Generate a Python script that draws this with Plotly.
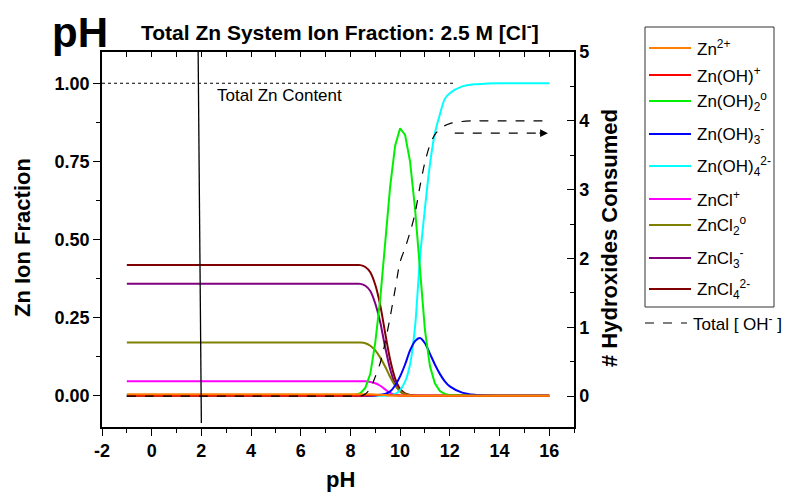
import plotly.graph_objects as go

# ---------------- data ----------------
ph = [-1, 0, 1, 2, 3, 4, 5, 6, 7, 7.5, 8, 8.2, 8.4, 8.6, 8.8, 9.0, 9.2, 9.4, 9.6, 9.8,
      10.0, 10.2, 10.4, 10.6, 10.8, 11.0, 11.2, 11.4, 11.6, 11.8, 12.0, 12.5, 13.0, 13.5, 14, 15, 16]

zn2 = [0.005, 0.005, 0.005, 0.005, 0.005, 0.005, 0.005, 0.005, 0.005, 0.005, 0.005, 0.005, 0.005,
       0.0048, 0.0045, 0.004, 0.003, 0.002, 0.001, 0.0004, 0.0001,
       0, 0, 0, 0, 0, 0, 0, 0, 0, 0, 0, 0, 0, 0, 0, 0]
znoh = [0, 0, 0, 0, 0, 0, 0, 0, 0, 0, 0, 0, 0,
        0.0005, 0.001, 0.0015, 0.002, 0.002, 0.0015, 0.001, 0.0005, 0.0002,
        0, 0, 0, 0, 0, 0, 0, 0, 0, 0, 0, 0, 0, 0, 0]
znoh2 = [0, 0, 0, 0, 0, 0, 0, 0, 0, 0, 0.001, 0.003, 0.008,
         0.025, 0.07, 0.17, 0.31, 0.49, 0.67, 0.80, 0.856, 0.835, 0.75, 0.60, 0.40,
         0.21, 0.095, 0.04, 0.015, 0.006, 0.002, 0.0005, 0, 0, 0, 0, 0]
znoh3 = [0, 0, 0, 0, 0, 0, 0, 0, 0, 0, 0, 0, 0, 0, 0,
         0.001, 0.003, 0.006, 0.014, 0.033, 0.062, 0.10, 0.145, 0.175, 0.185,
         0.168, 0.135, 0.10, 0.07, 0.046, 0.03, 0.01, 0.003, 0.001, 0.0003, 0, 0]
znoh4 = [0, 0, 0, 0, 0, 0, 0, 0, 0, 0, 0, 0, 0, 0, 0, 0, 0, 0,
         0.002, 0.006, 0.018, 0.045, 0.10, 0.22, 0.44, 0.60, 0.74, 0.84, 0.90, 0.95,
         0.968, 0.99, 0.997, 0.999, 1.0, 1.0, 1.0]
zncl = [0.046, 0.046, 0.046, 0.046, 0.046, 0.046, 0.046, 0.046, 0.046, 0.046, 0.046, 0.046, 0.046, 0.046,
        0.044, 0.040, 0.032, 0.02, 0.009, 0.003, 0.001, 0.0003,
        0, 0, 0, 0, 0, 0, 0, 0, 0, 0, 0, 0, 0, 0, 0]
zncl2 = [0.170, 0.170, 0.170, 0.170, 0.170, 0.170, 0.170, 0.170, 0.170, 0.170, 0.170, 0.170, 0.170,
         0.168, 0.16, 0.145, 0.122, 0.093, 0.06, 0.032, 0.014, 0.005, 0.0015, 0.0004,
         0, 0, 0, 0, 0, 0, 0, 0, 0, 0, 0, 0, 0]
zncl3 = [0.358, 0.358, 0.358, 0.358, 0.358, 0.358, 0.358, 0.358, 0.358, 0.358, 0.358, 0.358, 0.358,
         0.352, 0.335, 0.295, 0.235, 0.155, 0.085, 0.038, 0.014, 0.004, 0.001, 0.0003,
         0, 0, 0, 0, 0, 0, 0, 0, 0, 0, 0, 0, 0]
zncl4 = [0.418, 0.418, 0.418, 0.418, 0.418, 0.418, 0.418, 0.418, 0.418, 0.418, 0.418, 0.418, 0.418,
         0.412, 0.395, 0.355, 0.29, 0.20, 0.115, 0.055, 0.022, 0.008, 0.0025, 0.0007,
         0, 0, 0, 0, 0, 0, 0, 0, 0, 0, 0, 0, 0]
total_oh = [0, 0, 0, 0, 0, 0, 0, 0, 0, 0, 0, 0, 0,
            0.03, 0.11, 0.28, 0.48, 0.78, 1.15, 1.55, 1.95, 2.15, 2.38, 2.65, 3.05,
            3.4, 3.65, 3.8, 3.88, 3.93, 3.96, 3.99, 4.0, 4.0, 4.0, 4.0, 4.0]

species_names = ["Zn<sup>2+</sup>", "Zn(OH)<sup>+</sup>", "Zn(OH)<sub>2</sub><sup>o</sup>",
                 "Zn(OH)<sub>3</sub><sup>-</sup>", "Zn(OH)<sub>4</sub><sup>2-</sup>",
                 "ZnCl<sup>+</sup>", "ZnCl<sub>2</sub><sup>o</sup>", "ZnCl<sub>3</sub><sup>-</sup>",
                 "ZnCl<sub>4</sub><sup>2-</sup>"]
species_values = [zn2, znoh, znoh2, znoh3, znoh4, zncl, zncl2, zncl3, zncl4]
species_colors = ["#FF8000", "#FF0000", "#00F000", "#0000FF", "#00FFFF",
                  "#FF00FF", "#808000", "#800080", "#800000"]
species_shapes = ["spline", "spline", "linear", "spline", "spline",
                  "spline", "spline", "spline", "spline"]
oh_name = "Total [ OH<sup>-</sup> ]"

x_ticks = [-2, 0, 2, 4, 6, 8, 10, 12, 14, 16]
x_ticktext = ["-2", "0", "2", "4", "6", "8", "10", "12", "14", "16"]
y_ticks = [0.0, 0.25, 0.5, 0.75, 1.0]
y2_ticks = [0, 1, 2, 3, 4, 5]

total_zn_level = 1.0
total_zn_line_x = [-2, 12.2]
arrow_x = [12.2, 15.95]
arrow_y = 3.82
marker_line_x = [2.0, 1.87]
marker_line_y = [-0.087, 1.1]

FONT = "Liberation Sans, Arial, sans-serif"

# ---------------- figure ----------------
fig = go.Figure()

draw_order = [8, 7, 6, 5, 4, 3, 2, 1, 0]
fig.add_trace(go.Scatter(x=ph, y=total_oh, yaxis="y2", mode="lines",
                         line=dict(color="black", width=1.2, dash="dash", shape="spline", smoothing=0.8),
                         showlegend=False, hoverinfo="skip"))
for i in draw_order:
    fig.add_trace(go.Scatter(x=ph, y=species_values[i], mode="lines",
                             line=dict(color=species_colors[i], width=2,
                                       shape=species_shapes[i], smoothing=0.8),
                             name=species_names[i], showlegend=False))

# arrow (dashed shaft + head)
fig.add_trace(go.Scatter(x=[arrow_x[0], arrow_x[1] - 0.35], y=[arrow_y, arrow_y], yaxis="y2",
                         mode="lines", line=dict(color="black", width=1.2, dash="dash"),
                         showlegend=False, hoverinfo="skip"))
fig.add_annotation(x=arrow_x[1], y=arrow_y, xref="x", yref="y2",
                   ax=arrow_x[1] - 0.4, ay=arrow_y, axref="x", ayref="y2",
                   text="", showarrow=True, arrowhead=2, arrowsize=1.3,
                   arrowwidth=1.2, arrowcolor="black")

# dummy trace for the top axis
fig.add_trace(go.Scatter(x=[None], y=[None], xaxis="x2", showlegend=False, hoverinfo="skip"))

# dotted total Zn line
fig.add_shape(type="line", xref="x", yref="y", x0=total_zn_line_x[0], x1=total_zn_line_x[1],
              y0=total_zn_level, y1=total_zn_level, line=dict(color="black", width=1, dash="dot"))
# vertical marker line
fig.add_shape(type="line", xref="x", yref="y", x0=marker_line_x[0], x1=marker_line_x[1],
              y0=marker_line_y[0], y1=marker_line_y[1], line=dict(color="black", width=1.3))

fig.add_annotation(x=2.55, y=0.962, xref="x", yref="y", text="Total Zn Content",
                   showarrow=False, xanchor="left", yanchor="middle",
                   font=dict(family=FONT, size=17, color="black"))

W, H = 803, 496
L, R, T, B = 102, 229, 52, 69
PW, PH = W - L - R, H - T - B


def px(xp):
    return (xp - L) / PW


def py(yp):
    return (H - B - yp) / PH


# manual legend
fig.add_shape(type="rect", xref="paper", yref="paper", x0=px(645), x1=px(774),
              y0=py(307), y1=py(27), line=dict(color="#333333", width=1))
legend_rows = [48, 75, 101, 134, 166, 199, 225, 258, 289]
for name, col, yy in zip(species_names, species_colors, legend_rows):
    fig.add_shape(type="line", xref="paper", yref="paper", x0=px(649), x1=px(691),
                  y0=py(yy), y1=py(yy), line=dict(color=col, width=2))
    fig.add_annotation(x=px(695), y=py(yy), xref="paper", yref="paper", text=name,
                       showarrow=False, xanchor="left", yanchor="middle",
                       font=dict(family=FONT, size=17, color="black"))
fig.add_shape(type="line", xref="paper", yref="paper", x0=px(645), x1=px(687),
              y0=py(323), y1=py(323), line=dict(color="black", width=1.2, dash="dash"))
fig.add_annotation(x=px(691), y=py(323), xref="paper", yref="paper", text=oh_name,
                   showarrow=False, xanchor="left", yanchor="middle",
                   font=dict(family=FONT, size=17, color="black"))

# titles
fig.add_annotation(x=px(80), y=py(32), xref="paper", yref="paper", text="<b>pH</b>",
                   showarrow=False, xanchor="center", yanchor="middle",
                   font=dict(family=FONT, size=42, color="black"))
fig.add_annotation(x=px(340), y=py(31), xref="paper", yref="paper",
                   text="<b>Total Zn System Ion Fraction: 2.5 M [Cl<sup>-</sup>]</b>",
                   showarrow=False, xanchor="center", yanchor="middle",
                   font=dict(family=FONT, size=21, color="black"))
fig.add_annotation(x=px(22), y=py(238), xref="paper", yref="paper", text="<b>Zn Ion Fraction</b>",
                   showarrow=False, textangle=-90, xanchor="center", yanchor="middle",
                   font=dict(family=FONT, size=22, color="black"))
fig.add_annotation(x=px(609), y=py(238), xref="paper", yref="paper",
                   text="<b># Hydroxides Consumed</b>",
                   showarrow=False, textangle=-90, xanchor="center", yanchor="middle",
                   font=dict(family=FONT, size=22, color="black"))
fig.add_annotation(x=px(340), y=py(479), xref="paper", yref="paper", text="<b>pH</b>",
                   showarrow=False, xanchor="center", yanchor="middle",
                   font=dict(family=FONT, size=22, color="black"))

tickfont = dict(family=FONT, size=18, color="black", weight="bold")
fig.update_layout(
    width=W, height=H,
    margin=dict(l=L, r=R, t=T, b=B, pad=0),
    paper_bgcolor="white", plot_bgcolor="white",
    showlegend=False,
    xaxis=dict(range=[-2, 17], tickvals=x_ticks, ticktext=x_ticktext, ticks="outside", ticklen=7,
               tickwidth=1.3,
               showline=True, linecolor="black", linewidth=1.5, showgrid=False, zeroline=False,
               tickfont=tickfont, tickcolor="black", anchor="y",
               minor=dict(dtick=1, tick0=0, ticks="outside", ticklen=4, tickwidth=1.2,
                          tickcolor="black", showgrid=False)),
    xaxis2=dict(range=[-2, 17], overlaying="x", side="top", anchor="y", dtick=1, tick0=0,
                ticks="inside", ticklen=5, tickwidth=1.2, tickcolor="black",
                showticklabels=False, showline=True, linecolor="black", linewidth=1.5,
                showgrid=False, zeroline=False),
    yaxis=dict(range=[-0.1, 1.1], tickvals=y_ticks, tickformat=".2f", ticks="outside",
               ticklen=7, tickwidth=1.3, tickcolor="black",
               showline=True, linecolor="black", linewidth=1.5, showgrid=False, zeroline=False,
               tickfont=tickfont,
               minor=dict(dtick=0.125, tick0=0, ticks="outside", ticklen=4, tickwidth=1.2,
                          tickcolor="black", showgrid=False)),
    yaxis2=dict(range=[-0.45, 5], tickvals=y2_ticks, overlaying="y", side="right", anchor="x",
                ticks="inside", ticklen=7, tickwidth=1.3, tickcolor="black",
                showline=True, linecolor="black", linewidth=1.5, showgrid=False, zeroline=False,
                tickfont=tickfont,
                minor=dict(dtick=0.5, tick0=0, ticks="inside", ticklen=4, tickwidth=1.2,
                           tickcolor="black", showgrid=False)),
)

fig.write_html("out.html")
